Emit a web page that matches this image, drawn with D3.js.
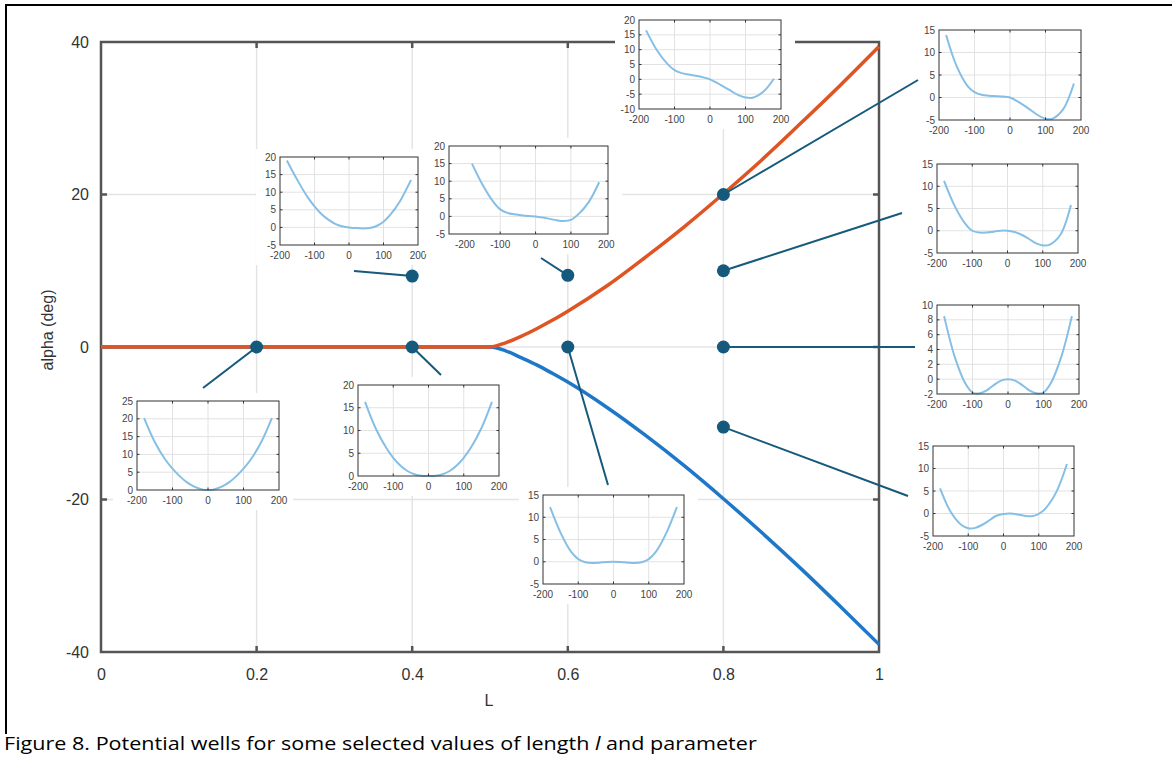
<!DOCTYPE html>
<html>
<head>
<meta charset="utf-8">
<script src="https://cdn.jsdelivr.net/npm/d3@7"></script>
<style>
body { margin: 0; background: #fff; }
svg { display: block; }
</style>
</head>
<body>
<script>
// Main chart data
const xTicks = [0, 0.2, 0.4, 0.6, 0.8, 1];
const yTicks = [-40, -20, 0, 20, 40];
const branchL = [0, 0.1, 0.2, 0.3, 0.4, 0.5, 0.52, 0.54, 0.56, 0.58, 0.6, 0.65, 0.7, 0.75, 0.8, 0.85, 0.9, 0.95, 1.0];
const upperAlpha = [0, 0, 0, 0, 0, 0, 0.55, 1.4, 2.4, 3.5, 4.7, 8.0, 11.8, 15.8, 20.1, 24.6, 29.4, 34.3, 39.4];
const lowerAlpha = [0, 0, 0, 0, 0, 0, -0.5, -1.4, -2.35, -3.45, -4.6, -7.9, -11.6, -15.6, -19.9, -24.4, -29.1, -34.0, -39.0];
const pointL = [0.2, 0.4, 0.4, 0.6, 0.6, 0.8, 0.8, 0.8, 0.8];
const pointAlpha = [0, 9.3, 0, 9.4, 0, 20, 10, 0, -10.5];

// Inset (potential well) data
const wellX = [-180, -150, -120, -100, -80, -60, -40, -20, 0, 20, 40, 60, 80, 100, 120, 150, 180];
const wellXTicks = [-200, -100, 0, 100, 200];
const wellA = [20.2, 13.5, 8.5, 6.0, 3.9, 2.2, 1.0, 0.25, 0, 0.25, 1.0, 2.2, 3.9, 6.0, 8.5, 13.5, 20.2];
const wellB = [19, 13.5, 8.6, 6.0, 3.8, 2.2, 1.0, 0.3, 0, -0.2, -0.3, -0.2, 0.4, 1.6, 3.6, 7.8, 13.5];
const wellC = [15, 9, 4.2, 2.0, 1.0, 0.6, 0.3, 0.1, 0, -0.3, -0.7, -1.1, -1.3, -1.0, 0.5, 4.0, 9.7];
const wellD = [16.5, 9.9, 5.2, 3.1, 2.1, 1.6, 1.2, 0.7, 0, -1.2, -2.6, -4.0, -5.3, -6.1, -6.2, -4.2, 0.2];
const wellE = [13.9, 6.9, 2.6, 1.2, 0.6, 0.4, 0.3, 0.2, 0, -0.8, -1.8, -2.9, -4.0, -4.7, -4.7, -2.6, 3.1];
const wellF = [11.2, 5.6, 1.6, 0.0, -0.4, -0.4, -0.2, 0, 0, -0.3, -0.9, -1.8, -2.8, -3.3, -3.1, -0.9, 5.8];
const wellG = [8.5, 3.0, -0.6, -1.8, -1.9, -1.5, -0.8, -0.2, 0, -0.2, -0.8, -1.5, -1.9, -1.8, -0.6, 3.0, 8.5];
const wellH = [5.6, 0.4, -2.5, -3.3, -3.2, -2.5, -1.5, -0.5, -0.1, 0, -0.2, -0.5, -0.6, -0.1, 1.2, 4.8, 11.0];
const wellI = [12.3, 6.5, 2.2, 0.6, -0.1, -0.3, -0.2, -0.05, 0, -0.05, -0.2, -0.3, -0.1, 0.6, 2.2, 6.5, 12.3];
const wellJ = [16.3, 10.5, 6.2, 4.0, 2.3, 1.1, 0.4, 0.05, 0, 0.05, 0.4, 1.1, 2.3, 4.0, 6.2, 10.5, 16.3];

// Inset layout: plot box in px, domains, which dot it belongs to and where its leader ends
const insets = [
    { well: wellA, box: [137, 401, 279, 490], xd: [-200, 200], yd: [0, 25], step: 5, dot: 0, end: [203, 388] },
    { well: wellB, box: [280, 157, 418, 245], xd: [-200, 200], yd: [-5, 20], step: 5, dot: 1, end: [354, 271] },
    { well: wellJ, box: [358, 385, 499, 476], xd: [-200, 200], yd: [0, 20], step: 5, dot: 2, end: [441, 375] },
    { well: wellC, box: [449, 146, 608, 234], xd: [-245, 205], yd: [-5, 20], step: 5, dot: 3, end: [541, 258] },
    { well: wellI, box: [543, 495, 684, 584], xd: [-200, 200], yd: [-5, 15], step: 5, dot: 4, end: [608, 485] },
    { well: wellD, box: [639, 20, 781, 109], xd: [-200, 200], yd: [-10, 20], step: 5, dot: null, end: null },
    { well: wellE, box: [939, 30, 1081, 120], xd: [-200, 200], yd: [-5, 15], step: 5, dot: 5, end: [918, 80] },
    { well: wellF, box: [937, 164, 1078, 253], xd: [-200, 200], yd: [-5, 15], step: 5, dot: 6, end: [902, 213] },
    { well: wellG, box: [937, 305, 1079, 394], xd: [-200, 200], yd: [-2, 10], step: 2, dot: 7, end: [915, 347] },
    { well: wellH, box: [933, 446, 1074, 536], xd: [-200, 200], yd: [-5, 15], step: 5, dot: 8, end: [908, 496] }
];

const width = 1172,
    height = 758;
const dotColor = '#155a7c';
const font = 'Liberation Sans, Arial, Helvetica, sans-serif';

let svg = d3.select('body').append('svg').attr('width', width).attr('height', height);

// Figure border (top and left)
svg.append('path')
    .attr('d', 'M6,734V5H1172')
    .attr('fill', 'none')
    .attr('stroke', '#000')
    .attr('stroke-width', 2);

let x = d3.scaleLinear().domain([0, 1]).range([101, 879]);
let y = d3.scaleLinear().domain([-40, 40]).range([652, 42]);

// Grid
svg.append('g')
    .selectAll('line')
    .data(xTicks.slice(1, -1))
    .enter()
    .append('line')
    .attr('x1', d => x(d))
    .attr('x2', d => x(d))
    .attr('y1', y(40))
    .attr('y2', y(-40))
    .attr('stroke', '#e4e4e4')
    .attr('stroke-width', 1.5);

svg.append('g')
    .selectAll('line')
    .data(yTicks.slice(1, -1))
    .enter()
    .append('line')
    .attr('x1', x(0))
    .attr('x2', x(1))
    .attr('y1', d => y(d))
    .attr('y2', d => y(d))
    .attr('stroke', '#e4e4e4')
    .attr('stroke-width', 1.5);

// Axes labels (plain hyphen for negatives)
let yAxis = svg.append('g').attr('transform', `translate(${x(0)},0)`)
    .call(d3.axisLeft(y).tickValues(yTicks).tickFormat(d => String(d)).tickSize(0).tickPadding(12));
let xAxis = svg.append('g').attr('transform', `translate(0,${y(-40)})`)
    .call(d3.axisBottom(x).tickValues(xTicks).tickFormat(d => String(d)).tickSize(0).tickPadding(17));
[yAxis, xAxis].forEach(a => {
    a.attr('font-family', null).attr('font-size', null);
    a.select('.domain').remove();
    a.selectAll('text').attr('font-family', font).attr('font-size', 16).attr('fill', '#333');
});

// Frame with inward ticks
let frame = svg.append('g').attr('stroke', '#555').attr('stroke-width', 2.5).attr('fill', 'none');
frame.append('rect').attr('x', x(0)).attr('y', y(40)).attr('width', x(1) - x(0)).attr('height', y(-40) - y(40));
xTicks.slice(1, -1).forEach(t => {
    frame.append('line').attr('x1', x(t)).attr('x2', x(t)).attr('y1', y(40)).attr('y2', y(40) + 6);
    frame.append('line').attr('x1', x(t)).attr('x2', x(t)).attr('y1', y(-40)).attr('y2', y(-40) - 6);
});
yTicks.slice(1, -1).forEach(t => {
    frame.append('line').attr('x1', x(0)).attr('x2', x(0) + 6).attr('y1', y(t)).attr('y2', y(t));
    frame.append('line').attr('x1', x(1)).attr('x2', x(1) - 6).attr('y1', y(t)).attr('y2', y(t));
});

svg.append('text')
    .attr('x', 489)
    .attr('y', 706)
    .attr('text-anchor', 'middle')
    .attr('font-family', font)
    .attr('font-size', 16)
    .attr('fill', '#333')
    .text('L');

svg.append('text')
    .attr('transform', 'translate(53,330) rotate(-90)')
    .attr('text-anchor', 'middle')
    .attr('font-family', font)
    .attr('font-size', 16)
    .attr('fill', '#333')
    .text('alpha (deg)');

// Insets
function drawInset(cfg) {
    const [x0, y0, x1, y1] = cfg.box;
    const ix = d3.scaleLinear().domain(cfg.xd).range([x0, x1]);
    const iy = d3.scaleLinear().domain(cfg.yd).range([y1, y0]);
    const yt = d3.range(cfg.yd[0], cfg.yd[1] + 0.001, cfg.step);
    const g = svg.append('g');

    g.append('rect')
        .attr('x', x0 - 24)
        .attr('y', y0 - 8)
        .attr('width', x1 - x0 + 38)
        .attr('height', y1 - y0 + 28)
        .attr('fill', '#fff');

    g.selectAll('line.gx')
        .data([-100, 0, 100])
        .enter()
        .append('line')
        .attr('x1', d => ix(d)).attr('x2', d => ix(d))
        .attr('y1', y0).attr('y2', y1)
        .attr('stroke', '#e2e2e2');
    g.selectAll('line.gy')
        .data(yt.slice(1, -1))
        .enter()
        .append('line')
        .attr('x1', x0).attr('x2', x1)
        .attr('y1', d => iy(d)).attr('y2', d => iy(d))
        .attr('stroke', '#e2e2e2');

    g.append('path')
        .datum(cfg.well)
        .attr('fill', 'none')
        .attr('stroke', '#86bfe6')
        .attr('stroke-width', 2)
        .attr('d', d3.line().x((d, i) => ix(wellX[i])).y(d => iy(d)).curve(d3.curveCatmullRom));

    g.append('rect')
        .attr('x', x0).attr('y', y0)
        .attr('width', x1 - x0).attr('height', y1 - y0)
        .attr('fill', 'none')
        .attr('stroke', '#333')
        .attr('stroke-width', 1);
    [-100, 0, 100].forEach(t => {
        g.append('line').attr('x1', ix(t)).attr('x2', ix(t)).attr('y1', y0).attr('y2', y0 + 2.5).attr('stroke', '#333');
        g.append('line').attr('x1', ix(t)).attr('x2', ix(t)).attr('y1', y1).attr('y2', y1 - 2.5).attr('stroke', '#333');
    });
    yt.slice(1, -1).forEach(t => {
        g.append('line').attr('x1', x0).attr('x2', x0 + 2.5).attr('y1', iy(t)).attr('y2', iy(t)).attr('stroke', '#333');
        g.append('line').attr('x1', x1).attr('x2', x1 - 2.5).attr('y1', iy(t)).attr('y2', iy(t)).attr('stroke', '#333');
    });

    g.selectAll('text.yl')
        .data(yt)
        .enter()
        .append('text')
        .attr('x', x0 - 4)
        .attr('y', d => iy(d))
        .attr('dy', '0.35em')
        .attr('text-anchor', 'end')
        .attr('font-family', font)
        .attr('font-size', 10)
        .attr('fill', '#444')
        .text(d => d);
    g.selectAll('text.xl')
        .data(wellXTicks)
        .enter()
        .append('text')
        .attr('x', d => ix(d))
        .attr('y', y1 + 14)
        .attr('text-anchor', 'middle')
        .attr('font-family', font)
        .attr('font-size', 10)
        .attr('fill', '#444')
        .text(d => d);
}
insets.forEach(drawInset);

// Branch curves
let line = d3.line().x((d, i) => x(branchL[i])).y(d => y(d)).curve(d3.curveMonotoneX);
svg.append('path').datum(lowerAlpha).attr('fill', 'none').attr('stroke', '#1f77c8').attr('stroke-width', 3.5).attr('d', line);
svg.append('path').datum(upperAlpha).attr('fill', 'none').attr('stroke', '#de5422').attr('stroke-width', 3.5).attr('d', line);

// Leader lines
svg.append('g')
    .selectAll('line')
    .data(insets.filter(c => c.dot !== null))
    .enter()
    .append('line')
    .attr('x1', c => x(pointL[c.dot]))
    .attr('y1', c => y(pointAlpha[c.dot]))
    .attr('x2', c => c.end[0])
    .attr('y2', c => c.end[1])
    .attr('stroke', dotColor)
    .attr('stroke-width', 2);

// Dots
svg.append('g')
    .selectAll('circle')
    .data(pointL)
    .enter()
    .append('circle')
    .attr('cx', d => x(d))
    .attr('cy', (d, i) => y(pointAlpha[i]))
    .attr('r', 6.5)
    .attr('fill', dotColor);

// Caption, fitted to the width of the original
let caption = svg.append('text')
    .attr('x', 0)
    .attr('y', 0)
    .attr('font-family', 'Open Sans, sans-serif')
    .attr('font-size', 18)
    .attr('fill', '#000');
caption.append('tspan').text('Figure 8. Potential wells for some selected values of length ');
caption.append('tspan').attr('font-style', 'italic').text('l');
caption.append('tspan').text(' and parameter');
let cw = caption.node().getComputedTextLength();
caption.attr('transform', `translate(4,750) scale(${753 / cw},1)`);
</script>
</body>
</html>
